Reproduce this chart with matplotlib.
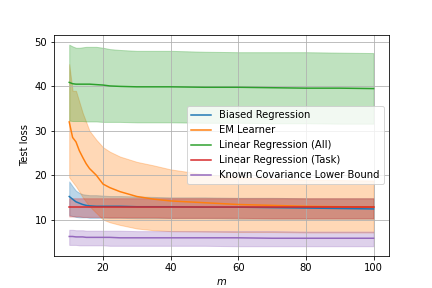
import matplotlib
matplotlib.use("Agg")
import matplotlib.pyplot as plt
import numpy as np

m = [10, 11, 12, 13, 14, 15, 16, 18, 20, 22, 25, 30, 35, 40, 50, 60, 70, 80, 90, 100]

biased_mean = [15.2, 14.6, 14.0, 13.7, 13.4, 13.2, 13.1, 13.0, 13.0, 13.0, 13.0, 12.9, 12.9, 12.9, 12.8, 12.8, 12.7, 12.6, 12.5, 12.4]
biased_hi = [18.6, 17.5, 16.5, 16.0, 15.7, 15.6, 15.5, 15.5, 15.4, 15.3, 15.3, 15.2, 15.1, 15.0, 15.0, 14.9, 14.9, 14.8, 14.8, 14.8]
biased_lo = [11.0, 10.8, 10.6, 10.5, 10.5, 10.5, 10.4, 10.4, 10.4, 10.4, 10.4, 10.3, 10.3, 10.3, 10.3, 10.2, 10.2, 10.2, 10.2, 10.2]

em_mean = [32.0, 28.5, 27.5, 25.5, 24.0, 22.6, 21.5, 20.0, 18.0, 17.2, 16.3, 15.2, 14.6, 14.2, 13.8, 13.4, 13.2, 13.0, 12.9, 12.8]
em_hi = [45.0, 39.0, 39.0, 36.5, 34.0, 32.0, 30.0, 28.0, 26.3, 25.3, 24.2, 23.0, 22.2, 21.3, 20.2, 19.6, 19.2, 19.0, 18.9, 18.8]
em_lo = [19.5, 18.5, 17.5, 16.3, 15.0, 14.0, 13.0, 11.5, 10.0, 9.4, 8.8, 8.0, 7.6, 7.4, 7.3, 7.2, 7.2, 7.1, 7.1, 7.1]

lra_mean = [40.9, 40.6, 40.5, 40.5, 40.5, 40.5, 40.5, 40.4, 40.3, 40.1, 40.0, 39.9, 39.9, 39.9, 39.8, 39.8, 39.7, 39.6, 39.6, 39.5]
lra_hi = [49.4, 49.0, 48.7, 48.7, 48.8, 48.9, 48.9, 48.9, 48.7, 48.4, 48.2, 48.0, 48.0, 48.0, 47.8, 47.7, 47.7, 47.7, 47.6, 47.5]
lra_lo = [32.3, 32.2, 32.2, 32.2, 32.2, 32.1, 32.1, 32.1, 32.0, 32.0, 32.0, 31.9, 31.9, 31.9, 31.8, 31.8, 31.7, 31.7, 31.6, 31.6]

lrt_mean = [12.8, 12.8, 12.8, 12.8, 12.8, 12.8, 12.8, 12.8, 12.8, 12.8, 12.8, 12.8, 12.8, 12.8, 12.8, 12.8, 12.8, 12.8, 12.8, 12.8]
lrt_hi = [14.8, 14.8, 14.8, 14.8, 14.8, 14.8, 14.8, 14.8, 14.8, 14.8, 14.8, 14.8, 14.8, 14.8, 14.8, 14.8, 14.8, 14.8, 14.8, 14.8]
lrt_lo = [10.7, 10.7, 10.7, 10.7, 10.6, 10.6, 10.6, 10.6, 10.6, 10.5, 10.5, 10.5, 10.5, 10.4, 10.4, 10.4, 10.3, 10.3, 10.3, 10.3]

kc_mean = [6.2, 6.2, 6.1, 6.1, 6.1, 6.0, 6.0, 6.0, 6.0, 6.0, 5.9, 5.9, 5.9, 5.9, 5.9, 5.9, 5.8, 5.8, 5.8, 5.8]
kc_hi = [7.7, 7.7, 7.6, 7.6, 7.6, 7.5, 7.5, 7.5, 7.5, 7.5, 7.5, 7.4, 7.4, 7.4, 7.4, 7.4, 7.4, 7.3, 7.3, 7.3]
kc_lo = [4.3, 4.3, 4.3, 4.2, 4.2, 4.2, 4.2, 4.2, 4.2, 4.1, 4.1, 4.1, 4.1, 4.1, 4.1, 4.0, 4.0, 4.0, 4.0, 4.0]

series = [
    ("Biased Regression", biased_mean, biased_lo, biased_hi, "C0"),
    ("EM Learner", em_mean, em_lo, em_hi, "C1"),
    ("Linear Regression (All)", lra_mean, lra_lo, lra_hi, "C2"),
    ("Linear Regression (Task)", lrt_mean, lrt_lo, lrt_hi, "C3"),
    ("Known Covariance Lower Bound", kc_mean, kc_lo, kc_hi, "C4"),
]

fig, ax = plt.subplots(figsize=(6, 4), dpi=72)
for label, mean, lo, hi, c in series:
    ax.plot(m, mean, color=c, label=label)
    ax.fill_between(m, lo, hi, color=c, alpha=0.3)

ax.set_xlabel("$m$")
ax.set_ylabel("Test loss")
ax.set_yticks([10, 20, 30, 40, 50])
ax.set_xticks([20, 40, 60, 80, 100])
ax.grid(True)
ax.legend(loc="center right")
fig.savefig("out.png", dpi=72)
